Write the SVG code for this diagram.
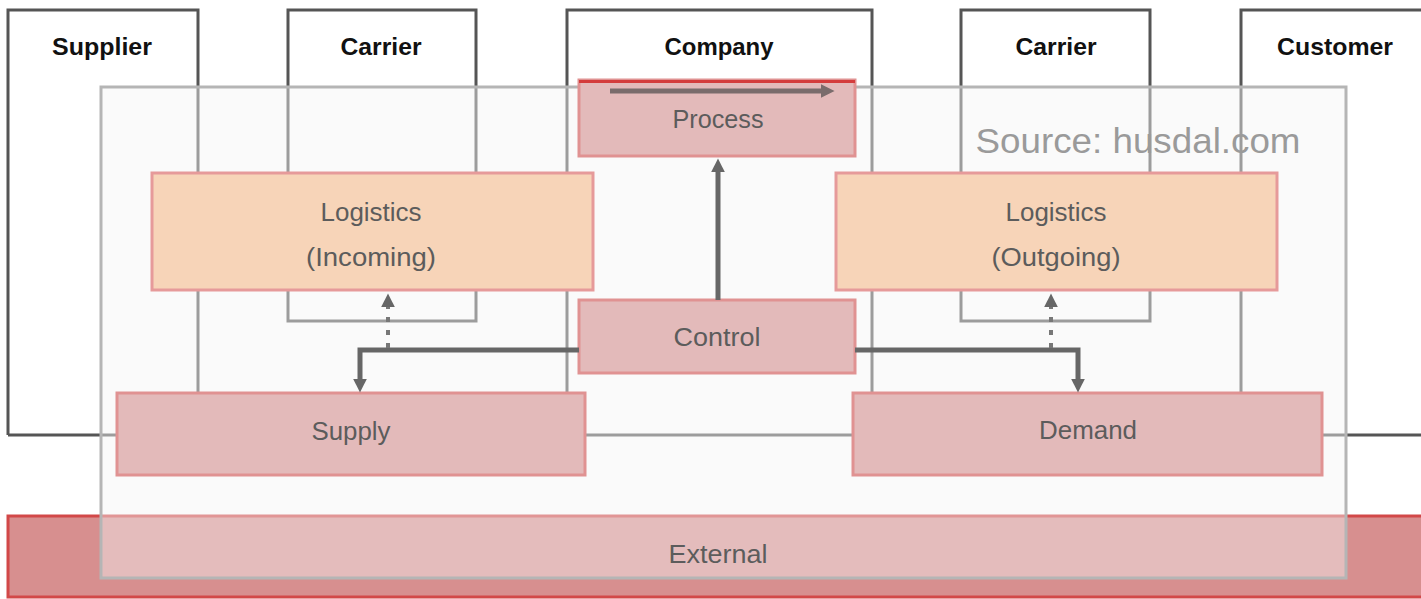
<svg xmlns="http://www.w3.org/2000/svg" width="1421" height="599" viewBox="0 0 1421 599">
  <defs>
    <marker id="ah" viewBox="0 0 10 10" refX="1" refY="5" markerUnits="userSpaceOnUse" markerWidth="14" markerHeight="14" orient="auto">
      <path d="M0,0 L10,5 L0,10 z" fill="#666"/>
    </marker>
    <marker id="ahp" viewBox="0 0 10 10" refX="1" refY="5" markerUnits="userSpaceOnUse" markerWidth="14" markerHeight="14" orient="auto">
      <path d="M0,0 L10,5 L0,10 z" fill="#7a6c6c"/>
    </marker>
    <style>
      .lane { fill: none; stroke: #555; stroke-width: 3; }
      .lbl { font-family: "Liberation Sans", Arial, sans-serif; font-weight: bold; font-size: 24px; fill: #111; text-anchor: middle; }
      .txt { font-family: "Liberation Sans", Arial, sans-serif; font-size: 25px; fill: #5c5c5c; text-anchor: middle; }
      .pink { fill: #e3baba; stroke: #e09292; stroke-width: 3; }
      .peach { fill: #f7d4b8; stroke: #e69a9a; stroke-width: 3; }
      .conn { fill: none; stroke: #666; stroke-width: 5; }
      .dot { fill: none; stroke: #777; stroke-width: 4; stroke-dasharray: 5 8; }
    </style>
  </defs>
  <rect width="1421" height="599" fill="#ffffff"/>

  <g id="lane-supplier">
    <path class="lane" d="M8,435 V10 H198 V400"/>
    <text class="lbl" x="102" y="55" textLength="100" lengthAdjust="spacingAndGlyphs">Supplier</text>
  </g>
  <g id="lane-carrier-in">
    <rect class="lane" x="288" y="10" width="188" height="311"/>
    <text class="lbl" x="381" y="55" textLength="81" lengthAdjust="spacingAndGlyphs">Carrier</text>
  </g>
  <g id="lane-company">
    <path class="lane" d="M567,400 V10 H872 V400"/>
    <text class="lbl" x="719" y="55" textLength="109" lengthAdjust="spacingAndGlyphs">Company</text>
  </g>
  <g id="lane-carrier-out">
    <rect class="lane" x="961" y="10" width="189" height="311"/>
    <text class="lbl" x="1056" y="55" textLength="81" lengthAdjust="spacingAndGlyphs">Carrier</text>
  </g>
  <g id="lane-customer">
    <path class="lane" d="M1241,400 V10 H1424"/>
    <text class="lbl" x="1335" y="55" textLength="116" lengthAdjust="spacingAndGlyphs">Customer</text>
  </g>
  <g id="baseline">
    <path class="lane" d="M8,435 H1424"/>
  </g>

  <g id="external">
    <rect x="8" y="516" width="1416" height="81" fill="#d78f8f" stroke="#d24848" stroke-width="3"/>
  </g>

  <g id="frame">
    <rect x="101" y="87" width="1245" height="491" fill="#f5f5f5" fill-opacity="0.45" stroke="#b5b5b5" stroke-width="3"/>
  </g>

  <g id="external-label">
    <text class="txt" x="718" y="563" textLength="99" lengthAdjust="spacingAndGlyphs">External</text>
  </g>

  <g id="process">
    <rect class="pink" x="579" y="80" width="276" height="76"/>
    <line x1="579" y1="81.5" x2="855" y2="81.5" stroke="#d43c3c" stroke-width="3"/>
    <text class="txt" x="718" y="128" textLength="91" lengthAdjust="spacingAndGlyphs">Process</text>
  </g>

  <g id="logistics-incoming">
    <rect class="peach" x="152" y="173" width="441" height="117"/>
    <text class="txt" x="371" y="221" textLength="101" lengthAdjust="spacingAndGlyphs">Logistics</text>
    <text class="txt" x="371" y="266" textLength="130" lengthAdjust="spacingAndGlyphs">(Incoming)</text>
  </g>
  <g id="logistics-outgoing">
    <rect class="peach" x="836" y="173" width="441" height="117"/>
    <text class="txt" x="1056" y="221" textLength="101" lengthAdjust="spacingAndGlyphs">Logistics</text>
    <text class="txt" x="1056" y="266" textLength="129" lengthAdjust="spacingAndGlyphs">(Outgoing)</text>
  </g>

  <g id="control">
    <rect class="pink" x="579" y="300" width="276" height="73"/>
    <text class="txt" x="717" y="346" textLength="87" lengthAdjust="spacingAndGlyphs">Control</text>
  </g>

  <g id="supply">
    <rect class="pink" x="117" y="393" width="468" height="82"/>
    <text class="txt" x="351" y="440" textLength="79" lengthAdjust="spacingAndGlyphs">Supply</text>
  </g>
  <g id="demand">
    <rect class="pink" x="853" y="393" width="469" height="82"/>
    <text class="txt" x="1088" y="439" textLength="98" lengthAdjust="spacingAndGlyphs">Demand</text>
  </g>

  <g id="connectors">
    <path class="conn" d="M610,91 H822" stroke="#7a6c6c" style="stroke:#7a6c6c" marker-end="url(#ahp)"/>
    <path class="conn" d="M718,300 V171" marker-end="url(#ah)"/>
    <path class="conn" d="M579,350 H360 V380" marker-end="url(#ah)"/>
    <path class="conn" d="M855,350 H1078 V380" marker-end="url(#ah)"/>
    <path class="dot" d="M388,348 V306" marker-end="url(#ah)"/>
    <path class="dot" d="M1051,348 V306" marker-end="url(#ah)"/>
  </g>

  <g id="source">
    <text x="1138" y="153" font-family="Liberation Sans, Arial, sans-serif" font-size="35" fill="#9a9a9a" text-anchor="middle" textLength="325" lengthAdjust="spacingAndGlyphs">Source: husdal.com</text>
  </g>
</svg>
